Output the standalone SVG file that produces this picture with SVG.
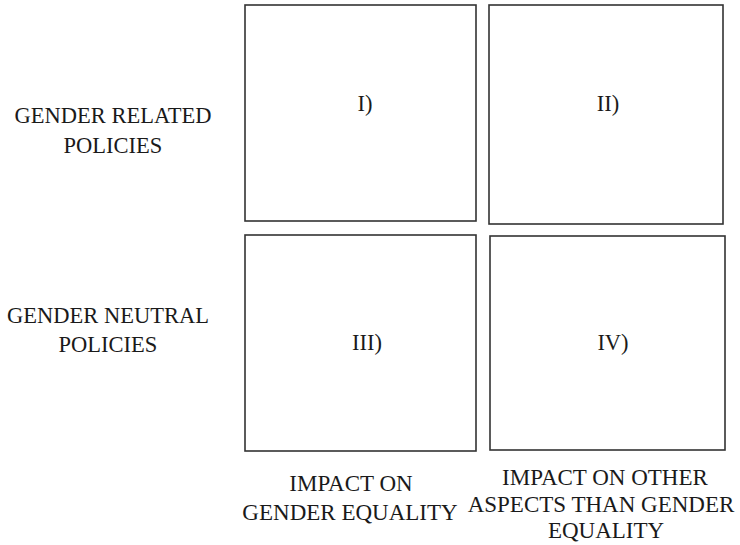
<svg xmlns="http://www.w3.org/2000/svg" width="740" height="545" viewBox="0 0 740 545">
<style>
.box{fill:#fff;stroke:#333;stroke-width:1.6}
.t{font-family:'Liberation Serif','Times New Roman',serif;font-size:22.5px;fill:#1a1a1a;text-anchor:middle}
.b{font-size:23px}
</style>
<rect width="740" height="545" fill="#fff"/>
<g id="row-labels">
<text class="t" x="113" y="123">GENDER RELATED</text>
<text class="t" x="113" y="153">POLICIES</text>
<text class="t" x="108" y="323">GENDER NEUTRAL</text>
<text class="t" x="108" y="352">POLICIES</text>
</g>
<g id="col-labels">
<text class="t b" x="351" y="491">IMPACT ON</text>
<text class="t b" x="350" y="520">GENDER EQUALITY</text>
<text class="t b" x="605" y="485">IMPACT ON OTHER</text>
<text class="t b" x="601" y="512">ASPECTS THAN GENDER</text>
<text class="t b" x="606" y="538">EQUALITY</text>
</g>
<g id="q1"><rect class="box" x="245" y="5" width="231" height="216"/><text class="t" x="365" y="111">I)</text></g>
<g id="q2"><rect class="box" x="489" y="5" width="234" height="219"/><text class="t" x="608" y="111">II)</text></g>
<g id="q3"><rect class="box" x="245" y="235" width="231" height="216"/><text class="t" x="367" y="350">III)</text></g>
<g id="q4"><rect class="box" x="490" y="236" width="235" height="214"/><text class="t" x="613" y="350">IV)</text></g>
<g id="connectors"></g>
</svg>
